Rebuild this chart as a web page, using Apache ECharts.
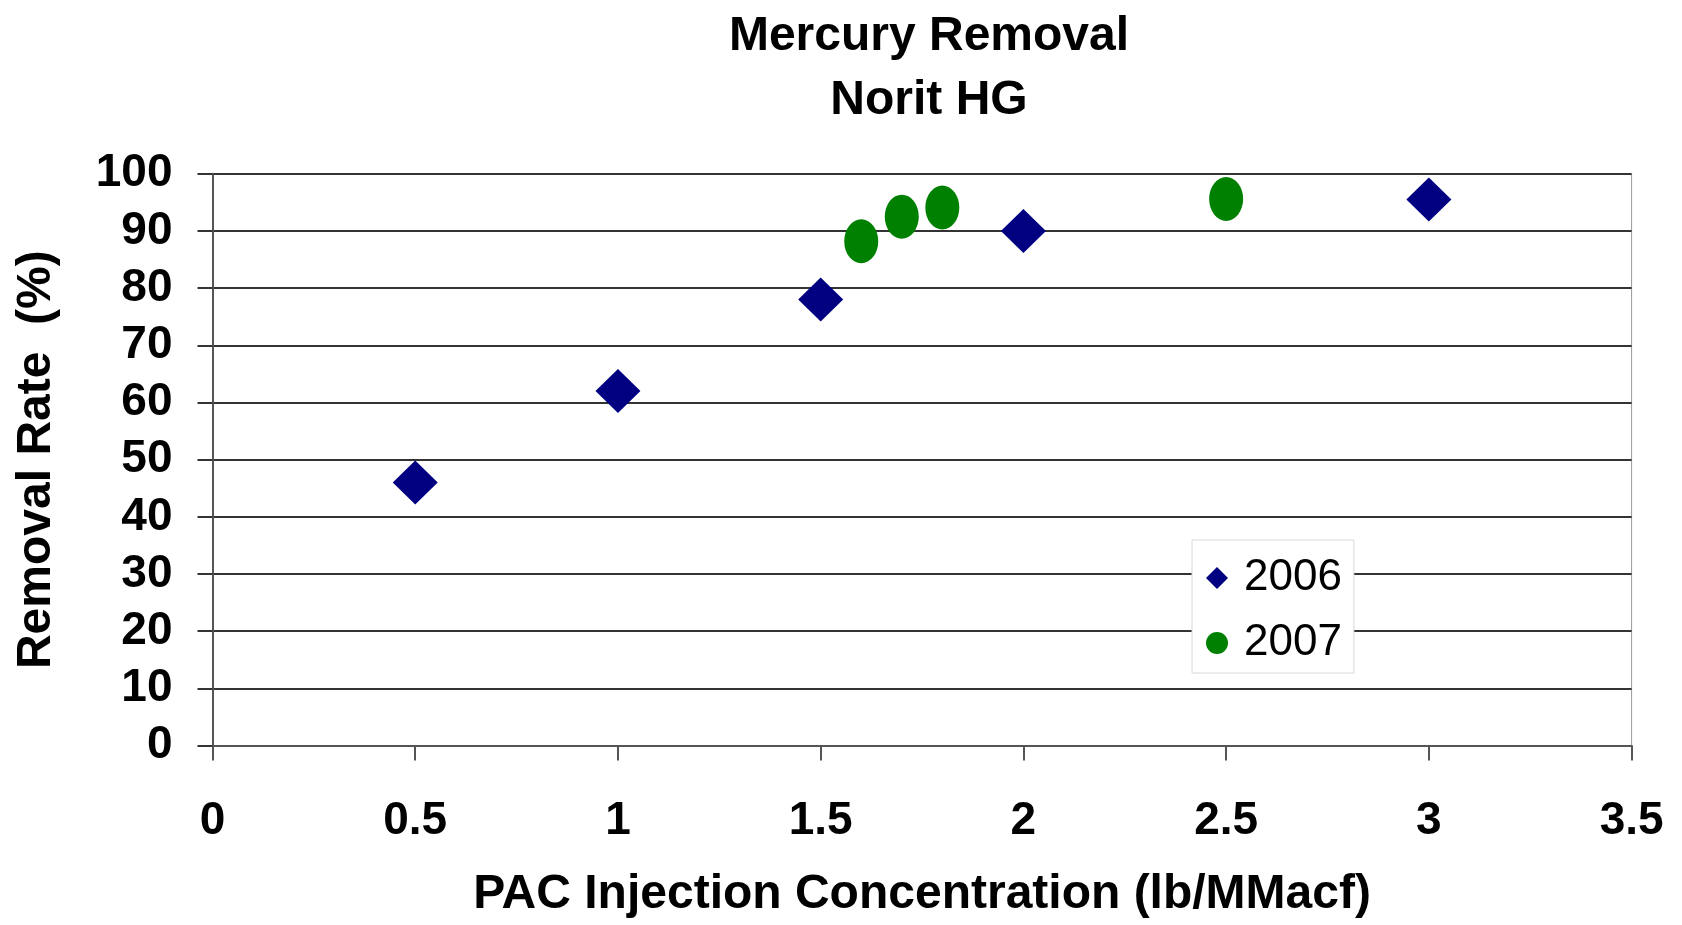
<!DOCTYPE html>
<html>
<head>
<meta charset="utf-8">
<script src="https://cdn.jsdelivr.net/npm/echarts@6/dist/echarts.min.js"></script>
<style>
html,body{margin:0;padding:0;background:#fff;}
#chart{width:1682px;height:925px;}
</style>
</head>
<body>
<div id="chart"></div>
<script>
const titleText = 'Mercury Removal\nNorit HG';
const xAxisName = 'PAC Injection Concentration (lb/MMacf)';
const yAxisName = 'Removal Rate  (%)';
const seriesNames = ['2006', '2007'];
const x2006 = [0.5, 1, 1.5, 2, 3];
const y2006 = [46, 62, 78, 90, 95.5];
const x2007 = [1.6, 1.7, 1.8, 2.5];
const y2007 = [88.2, 92.5, 94.1, 95.6];

const FONT = '"Liberation Sans", Arial, sans-serif';
const chart = echarts.init(document.getElementById('chart'), null, {renderer: 'canvas'});
chart.setOption({
  backgroundColor: '#fff',
  animation: false,
  title: {
    text: titleText,
    left: 924,
    top: 0,
    textAlign: 'center',
    textStyle: {fontFamily: FONT, fontSize: 48, fontWeight: 'bold', color: '#000', lineHeight: 64}
  },
  legend: {
    orient: 'vertical',
    left: 1192,
    top: 540,
    padding: [16, 12, 8, 14],
    itemGap: 21,
    itemWidth: 22,
    itemHeight: 22,
    itemTextGap: 14,
    backgroundColor: '#fff',
    borderColor: '#d8d8d8',
    borderWidth: 1,
    textStyle: {fontFamily: FONT, fontSize: 44, color: '#000', lineHeight: 44, padding: [0, 0, 0, 11]},
    data: [
      {name: seriesNames[0], icon: 'diamond'},
      {name: seriesNames[1], icon: 'circle'}
    ]
  },
  grid: {left: 212.5, right: 50.4, top: 173.8, bottom: 179.5, show: true, borderColor: '#999', borderWidth: 1},
  xAxis: {
    type: 'value',
    min: 0, max: 3.5, interval: 0.5,
    name: xAxisName,
    nameLocation: 'middle',
    nameGap: 125,
    nameTextStyle: {fontFamily: FONT, fontSize: 48, fontWeight: 'bold', color: '#000'},
    axisLine: {show: true, onZero: false, lineStyle: {color: '#555', width: 2}},
    axisTick: {show: true, length: 15, inside: false, lineStyle: {color: '#555', width: 2}},
    axisLabel: {fontFamily: FONT, fontSize: 46, fontWeight: 'bold', color: '#000', margin: 53},
    splitLine: {show: false}
  },
  yAxis: {
    type: 'value',
    min: 0, max: 100, interval: 10,
    name: yAxisName,
    nameLocation: 'middle',
    nameGap: 152,
    nameTextStyle: {fontFamily: FONT, fontSize: 48, fontWeight: 'bold', color: '#000'},
    axisLine: {show: true, lineStyle: {color: '#555', width: 2}},
    axisTick: {show: true, length: 15, lineStyle: {color: '#333', width: 2}},
    axisLabel: {fontFamily: FONT, fontSize: 46, fontWeight: 'bold', color: '#000', margin: 40},
    splitLine: {show: true, lineStyle: {color: '#333', width: 2}}
  },
  series: [
    {
      name: seriesNames[0],
      type: 'scatter',
      symbol: 'diamond',
      symbolSize: [45, 44],
      itemStyle: {color: '#000080', opacity: 1},
      data: x2006.map((x, i) => [x, y2006[i]]),
      z: 3
    },
    {
      name: seriesNames[1],
      type: 'scatter',
      symbol: 'circle',
      symbolSize: [34, 44],
      itemStyle: {color: '#008000', opacity: 1},
      data: x2007.map((x, i) => [x, y2007[i]]),
      z: 4
    }
  ]
});
</script>
</body>
</html>
